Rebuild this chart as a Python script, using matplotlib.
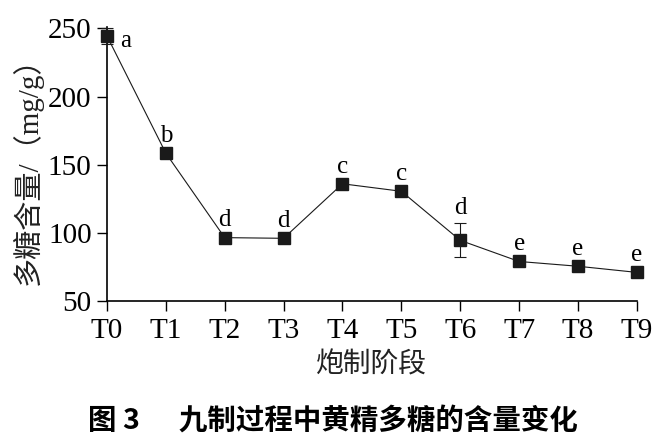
import matplotlib.pyplot as plt
import numpy as np

stages = ['T0', 'T1', 'T2', 'T3', 'T4', 'T5', 'T6', 'T7', 'T8', 'T9']
content = [244.5, 158.5, 96.5, 96.0, 136.0, 130.5, 94.5, 79.0, 75.5, 71.0]
err = [6.0, 1.5, 1.5, 1.5, 1.5, 1.5, 12.5, 1.5, 1.5, 1.5]
letters = ['a', 'b', 'd', 'd', 'c', 'c', 'd', 'e', 'e', 'e']

cjk = ['Noto Sans CJK SC', 'DejaVu Sans']
serif = 'Liberation Serif'
mixed = ['Liberation Serif', 'Noto Sans CJK SC']

fig = plt.figure(figsize=(6.6, 4.43), dpi=100)
ax = fig.add_axes([0.162, 0.3205, 0.803, 0.6185])

x = np.arange(len(stages))
ax.errorbar(x, content, yerr=err, fmt='s-', color='#1a1a1a', lw=0.8,
            ms=8.5, elinewidth=0.8, capsize=4, capthick=0.8, clip_on=False, zorder=3)

for xi, yi, e, s in zip(x, content, err, letters):
    if xi == 0:
        ax.text(xi + 0.32, yi - 4, s, fontsize=18, family=serif, ha='center', va='center')
    else:
        ax.text(xi, yi + e + 3, s, fontsize=18, family=serif, ha='center', va='bottom')

ax.set_xlim(0, 9)
ax.set_ylim(50, 251)
ax.set_xticks(x)
ax.set_xticklabels(stages, family=serif, fontsize=21)
ax.set_yticks([50, 100, 150, 200, 250])
ax.set_yticklabels(['50', '100', '150', '200', '250'], family=serif, fontsize=21)
ax.tick_params(direction='out', length=7, width=1)
ax.tick_params(axis='x', pad=5)
ax.tick_params(axis='y', pad=4)
for side in ['top', 'right']:
    ax.spines[side].set_visible(False)
for side in ['left', 'bottom']:
    ax.spines[side].set_linewidth(1.2)

ax.set_xlabel('炮制阶段', family=cjk, fontsize=20, color='#222222', labelpad=4)
ax.set_ylabel('多糖含量/（mg/g）', family=mixed, fontsize=21, color='#222222', labelpad=4)

fig.text(0.505, 0.05, '图 3      九制过程中黄精多糖的含量变化', family=cjk,
         fontsize=20.5, fontweight='bold', ha='center', va='center')

fig.savefig('out.png', dpi=100)
